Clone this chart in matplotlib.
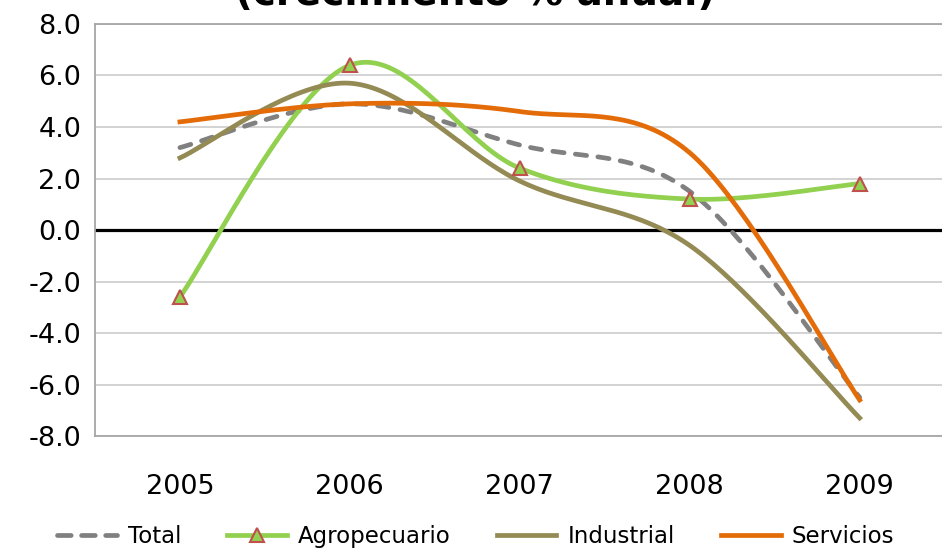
import numpy as np
import matplotlib
matplotlib.use('Agg')
import matplotlib.pyplot as plt

### data
years = ['2005', '2006', '2007', '2008', '2009']
total = [3.2, 4.9, 3.3, 1.5, -6.5]
agro = [-2.6, 6.4, 2.4, 1.2, 1.8]
industrial = [2.8, 5.7, 1.9, -0.6, -7.3]
servicios = [4.2, 4.9, 4.6, 3.0, -6.6]
yticks = [-8, -6, -4, -2, 0, 2, 4, 6, 8]
title = '(crecimiento % anual)'

plt.rcParams['font.family'] = ['DejaVu Sans']


def smooth(y, n=40):
    # excel style smoothed line (catmull-rom bezier through the points)
    p = np.column_stack([np.arange(len(y)), y]).astype(float)
    ext = np.vstack([p[0], p, p[-1]])
    out = []
    t = np.linspace(0, 1, n)[:, None]
    for i in range(len(p) - 1):
        p0, p1, p2, p3 = ext[i], ext[i + 1], ext[i + 2], ext[i + 3]
        c1 = p1 + (p2 - p0) / 6
        c2 = p2 - (p3 - p1) / 6
        seg = ((1 - t)**3 * p1 + 3 * (1 - t)**2 * t * c1 +
               3 * (1 - t) * t**2 * c2 + t**3 * p2)
        out.append(seg if i == 0 else seg[1:])
    out = np.vstack(out)
    return out[:, 0], out[:, 1]


fig = plt.figure(figsize=(9.42, 5.49), dpi=100)
ax = fig.add_axes([0.1008, 0.2058, 0.902, 0.7505])

x = np.arange(len(years))
lw = 3.4
grid_c = '#d0d0d0'
for v in yticks:
    ax.axhline(v, color=grid_c, lw=1.3, zorder=0)
ax.axhline(0, color='black', lw=2.3, zorder=1)

xs, ys = smooth(total)
ax.plot(xs, ys, color='#808080', lw=lw, ls=(0, (2.4, 2.4)),
        dash_capstyle='round', zorder=3)
xs, ys = smooth(agro)
ax.plot(xs, ys, color='#92D050', lw=lw, zorder=3)
ax.plot(x, agro, ls='none', marker='^', ms=10, mfc='#92D050',
        mec='#C0504D', mew=1.5, zorder=4)
xs, ys = smooth(industrial)
ax.plot(xs, ys, color='#948A54', lw=lw, zorder=3)
xs, ys = smooth(servicios)
ax.plot(xs, ys, color='#E36C09', lw=lw, zorder=3)

ax.set_xlim(-0.5, len(years) - 0.5)
ax.set_ylim(-8, 8)
ax.set_yticks(yticks)
ax.set_yticklabels([f'{v:.1f}' for v in yticks])
ax.set_xticks(x)
ax.set_xticklabels(years)
ax.tick_params(length=0, labelsize=19.5, pad=10)
ax.tick_params(axis='x', pad=27)
for s in ax.spines.values():
    s.set_color('#a6a6a6')
    s.set_linewidth(1.3)

# legend entries
h_total = plt.Line2D([], [], color='#808080', lw=lw, ls=(0, (2.9, 2.2)),
                     dash_capstyle='round')
h_agro = plt.Line2D([], [], color='#92D050', lw=lw, marker='^', ms=10,
                    mfc='#92D050', mec='#C0504D', mew=1.5)
h_ind = plt.Line2D([], [], color='#948A54', lw=lw)
h_serv = plt.Line2D([], [], color='#E36C09', lw=lw)
fig.legend([h_total, h_agro, h_ind, h_serv],
           ['Total', 'Agropecuario', 'Industrial', 'Servicios'],
           loc='center', bbox_to_anchor=(0.505, 0.022), ncol=4,
           frameon=False, fontsize=16.5, handlelength=2.6,
           handletextpad=0.5, columnspacing=2.0)

fig.text(0.504, 0.991, title, ha='center', va='baseline',
         fontsize=28, fontweight='bold')

fig.savefig('out.png', dpi=100)
